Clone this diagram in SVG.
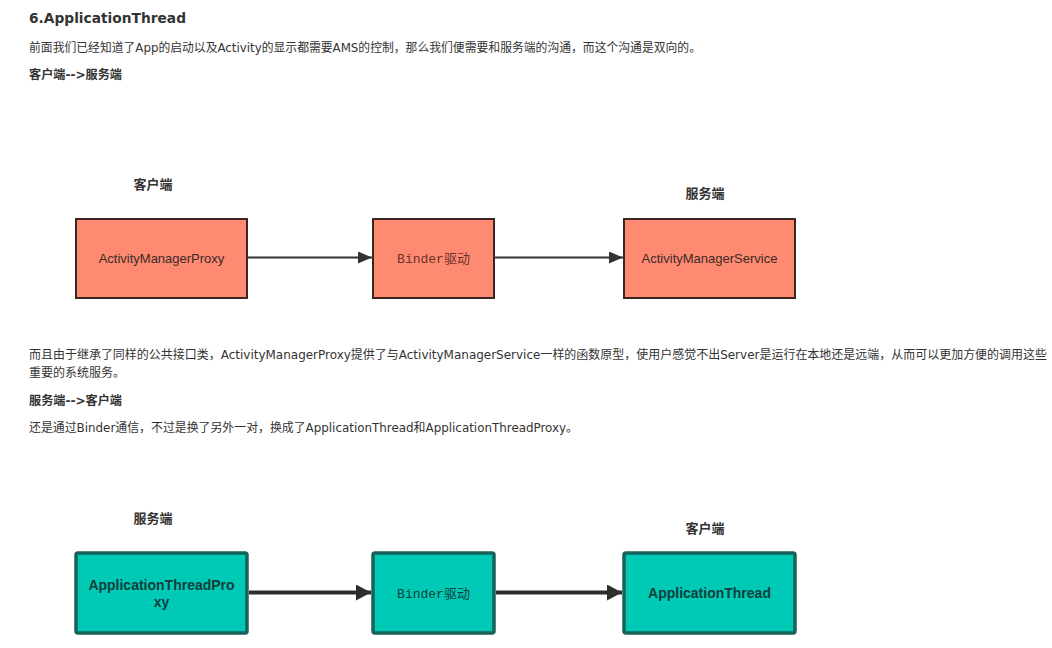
<svg xmlns="http://www.w3.org/2000/svg" width="1052" height="648" viewBox="0 0 1052 648">
<defs>
<style>
.txt{font-family:"DejaVu Sans","Noto Sans CJK SC",sans-serif;font-size:12px;fill:#333}
.b{font-weight:bold}
.h{font-family:"DejaVu Sans","Noto Sans CJK SC",sans-serif;font-size:14.5px;font-weight:bold;fill:#333}
.lbl{font-family:"Liberation Sans","Noto Sans CJK SC",sans-serif;font-size:13px;font-weight:bold;fill:#333;text-anchor:middle}
.red{fill:#FF8A72;stroke:#3b2622;stroke-width:2}
.teal{fill:#00C9B6;stroke:#17625B;stroke-width:3.5}
.rt{font-family:"Liberation Sans","Noto Sans CJK SC",sans-serif;font-size:13px;fill:#3a2a28;text-anchor:middle}
.tt{font-family:"Liberation Sans","Noto Sans CJK SC",sans-serif;font-size:14px;font-weight:bold;fill:#0f3f3b;text-anchor:middle}
.mono{font-family:"Liberation Mono","Noto Sans CJK SC",monospace;font-size:13px;text-anchor:middle}
.c1{stroke:#333;stroke-width:2;fill:none}
.c2{stroke:#2e2e2e;stroke-width:4;fill:none}
</style>
<marker id="ah1" markerUnits="userSpaceOnUse" markerWidth="16" markerHeight="12" refX="14" refY="6" orient="auto"><path d="M0,0 L14,6 L0,12 Z" fill="#333"/></marker>
<marker id="ah2" markerUnits="userSpaceOnUse" markerWidth="18" markerHeight="16" refX="15" refY="8" orient="auto"><path d="M0,0 L15,8 L0,16 Z" fill="#2e2e2e"/></marker>
</defs>
<rect width="1052" height="648" fill="#fff"/>
<g id="text">
<text class="h" x="29" y="23" textLength="157" lengthAdjust="spacingAndGlyphs">6.ApplicationThread</text>
<text class="txt" x="29" y="52" textLength="672" lengthAdjust="spacingAndGlyphs">前面我们已经知道了App的启动以及Activity的显示都需要AMS的控制，那么我们便需要和服务端的沟通，而这个沟通是双向的。</text>
<text class="txt b" x="29" y="79" textLength="93" lengthAdjust="spacingAndGlyphs">客户端--&gt;服务端</text>
<text class="txt" x="29" y="359" textLength="1018" lengthAdjust="spacingAndGlyphs">而且由于继承了同样的公共接口类，ActivityManagerProxy提供了与ActivityManagerService一样的函数原型，使用户感觉不出Server是运行在本地还是远端，从而可以更加方便的调用这些</text>
<text class="txt" x="29" y="377">重要的系统服务。</text>
<text class="txt b" x="29" y="405" textLength="93" lengthAdjust="spacingAndGlyphs">服务端--&gt;客户端</text>
<text class="txt" x="29" y="432" textLength="549" lengthAdjust="spacingAndGlyphs">还是通过Binder通信，不过是换了另外一对，换成了ApplicationThread和ApplicationThreadProxy。</text>
</g>
<g id="labels">
<text class="lbl" x="153" y="189">客户端</text>
<text class="lbl" x="705" y="198">服务端</text>
<text class="lbl" x="153" y="523">服务端</text>
<text class="lbl" x="705" y="533">客户端</text>
</g>
<g id="amp"><rect class="red" x="76" y="219" width="171" height="79"/><text class="rt" x="161.5" y="263">ActivityManagerProxy</text></g>
<g id="binder1"><rect class="red" x="373" y="219" width="121" height="79"/><text class="mono" x="433.5" y="263" fill="#6b3326">Binder驱动</text></g>
<g id="ams"><rect class="red" x="624" y="219" width="171" height="79"/><text class="rt" x="709.5" y="263">ActivityManagerService</text></g>
<g id="atp"><rect class="teal" x="76" y="553" width="171" height="80" rx="2"/><text class="tt" x="161.5" y="590">ApplicationThreadPro</text><text class="tt" x="161.5" y="607">xy</text></g>
<g id="binder2"><rect class="teal" x="373" y="553" width="121" height="80" rx="2"/><text class="mono" x="433.5" y="598" fill="#0f3f3b">Binder驱动</text></g>
<g id="at"><rect class="teal" x="624" y="553" width="171" height="80" rx="2"/><text class="tt" x="709.5" y="598">ApplicationThread</text></g>
<g id="connectors">
<line class="c1" x1="248" y1="257.5" x2="372" y2="257.5" marker-end="url(#ah1)"/>
<line class="c1" x1="495" y1="257.5" x2="623" y2="257.5" marker-end="url(#ah1)"/>
<line class="c2" x1="249" y1="592.5" x2="371" y2="592.5" marker-end="url(#ah2)"/>
<line class="c2" x1="496" y1="592.5" x2="622" y2="592.5" marker-end="url(#ah2)"/>
</g>
</svg>
